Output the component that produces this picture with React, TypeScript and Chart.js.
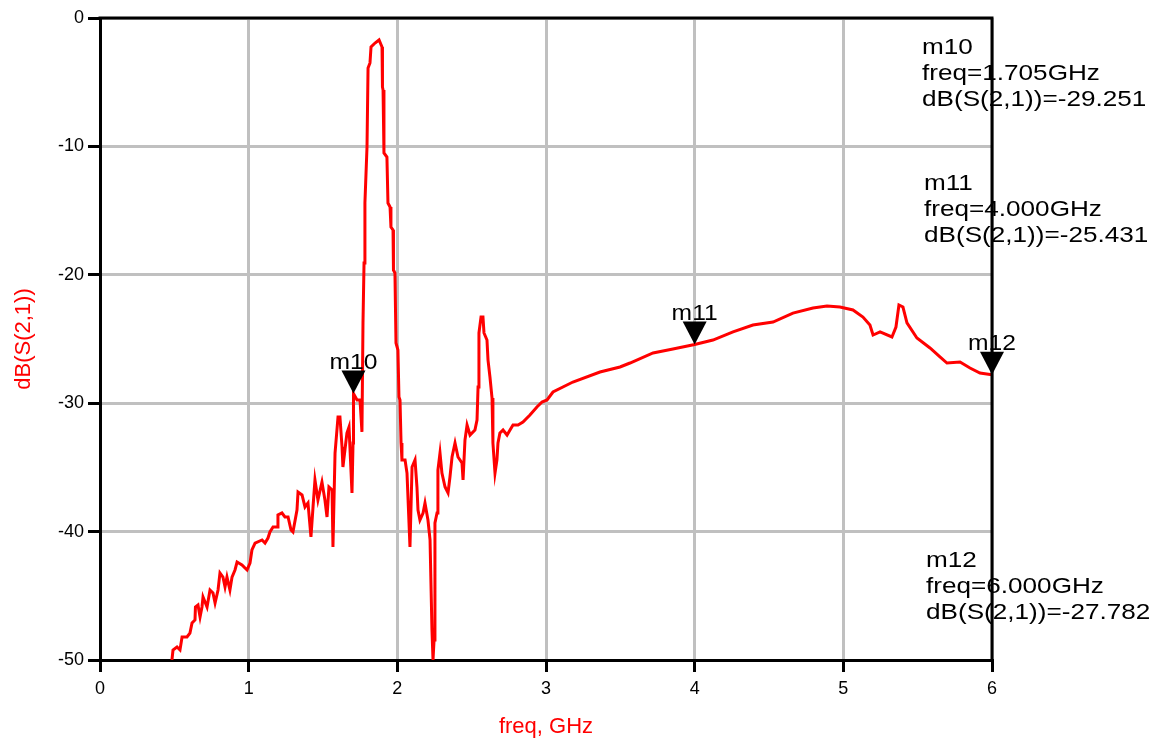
import { useEffect, useRef } from 'react';
import { Chart, registerables } from 'chart.js';

Chart.register(...registerables);

// ---- data (frequency in GHz, dB(S(2,1))) ----
const freqGHz = [
  0.484, 0.491, 0.518, 0.538, 0.552, 0.585, 0.605, 0.619, 0.639, 0.642, 0.659, 0.673, 0.686, 0.693, 0.720,
  0.740, 0.760, 0.774, 0.794, 0.807, 0.827, 0.841, 0.854, 0.874, 0.888, 0.908, 0.922, 0.955, 0.989, 1.009,
  1.022, 1.043, 1.090, 1.110, 1.130, 1.143, 1.164, 1.191, 1.197, 1.224, 1.244, 1.265, 1.285, 1.298, 1.325,
  1.332, 1.359, 1.379, 1.399, 1.419, 1.433, 1.446, 1.466, 1.493, 1.513, 1.527, 1.540, 1.561, 1.567, 1.581,
  1.601, 1.614, 1.628, 1.634, 1.661, 1.675, 1.695, 1.702, 1.705, 1.729, 1.749, 1.762, 1.769, 1.776, 1.782,
  1.796, 1.803, 1.816, 1.823, 1.850, 1.877, 1.897, 1.900, 1.904, 1.910, 1.930, 1.937, 1.951, 1.957, 1.971,
  1.974, 1.984, 1.991, 2.004, 2.011, 2.018, 2.025, 2.031, 2.052, 2.065, 2.085, 2.099, 2.119, 2.132, 2.139,
  2.152, 2.173, 2.186, 2.206, 2.220, 2.233, 2.240, 2.247, 2.253, 2.267, 2.273, 2.287, 2.300, 2.321, 2.341,
  2.354, 2.368, 2.388, 2.408, 2.435, 2.442, 2.455, 2.469, 2.489, 2.522, 2.536, 2.543, 2.549, 2.563, 2.576,
  2.583, 2.603, 2.610, 2.623, 2.637, 2.643, 2.657, 2.670, 2.677, 2.690, 2.711, 2.738, 2.758, 2.778, 2.812,
  2.845, 2.892, 2.939, 2.973, 3.007, 3.047, 3.181, 3.363, 3.498, 3.565, 3.720, 3.854, 4.000, 4.123, 4.258,
  4.392, 4.527, 4.661, 4.796, 4.890, 4.977, 5.065, 5.132, 5.179, 5.200, 5.247, 5.327, 5.354, 5.374, 5.401,
  5.428, 5.495, 5.583, 5.650, 5.697, 5.785, 5.852, 5.919, 6.000,
];
const s21dB = [
  -50.0, -49.22, -48.99, -49.22, -48.21, -48.21, -47.9, -47.12, -46.88, -45.87, -45.72, -46.65, -45.87, -45.09, -45.87,
  -44.55, -44.78, -45.56, -44.55, -43.22, -43.54, -44.31, -43.54, -44.55, -43.54, -42.99, -42.37, -42.6, -42.99, -42.45,
  -41.43, -40.89, -40.65, -40.89, -40.5, -40.03, -39.64, -39.64, -38.71, -38.55, -38.86, -38.86, -39.88, -40.03, -38.32,
  -36.92, -37.15, -38.08, -37.77, -40.42, -38.08, -35.98, -37.54, -36.14, -37.54, -38.86, -36.53, -36.76, -41.2, -33.88,
  -31.07, -31.07, -33.41, -34.97, -32.32, -31.85, -36.99, -33.1, -29.25, -29.75, -29.75, -32.24, -23.75, -19.08, -14.41,
  -10.05, -3.89, -3.5, -2.26, -1.95, -1.71, -2.26, -5.37, -5.61, -10.51, -10.83, -14.41, -14.72, -16.28, -16.51,
  -19.63, -19.86, -25.31, -25.86, -29.52, -29.75, -33.1, -34.42, -34.42, -35.44, -41.2, -34.97, -34.42, -36.53, -38.32,
  -39.1, -38.55, -37.77, -39.1, -40.65, -47.66, -50.0, -48.44, -39.33, -38.55, -35.2, -33.88, -35.44, -36.53, -36.99,
  -35.75, -34.19, -33.1, -34.19, -34.66, -35.98, -32.87, -31.7, -32.48, -32.09, -31.31, -28.74, -24.53, -23.29, -23.29,
  -24.53, -25.08, -26.64, -27.96, -29.6, -33.1, -35.44, -34.42, -33.1, -32.32, -32.09, -32.48, -32.09, -31.7, -31.7,
  -31.46, -30.92, -30.3, -29.91, -29.75, -29.13, -28.35, -27.57, -27.18, -26.87, -26.09, -25.78, -25.43, -25.08, -24.45,
  -23.91, -23.68, -22.98, -22.59, -22.43, -22.51, -22.74, -23.29, -23.91, -24.69, -24.45, -24.84, -24.07, -22.35, -22.51,
  -23.75, -24.92, -25.7, -26.4, -26.87, -26.79, -27.26, -27.65, -27.78,
];

const markerNames = ['m10', 'm11', 'm12'];
const markerFreq = [1.705, 4.0, 6.0];
const markerDB = [-29.251, -25.431, -27.782];

const xTickValues = [0, 1, 2, 3, 4, 5, 6];
const yTickValues = [-50, -40, -30, -20, -10, 0];

const xTitle = 'freq, GHz';
const yTitle = 'dB(S(2,1))';
const traceName = 'dB(S(2,1))';

// layout of the marker readouts (pixel offsets from the plot's right edge)
const readoutLayout = [
  { dx: -70, y: 54 },
  { dx: -68, y: 190 },
  { dx: -66, y: 567 },
];

const FONT = '"Liberation Sans", Arial, sans-serif';

const markerPlugin = {
  id: 'adsMarkers',
  afterDatasetsDraw(chart: any) {
    const ctx = chart.ctx;
    const xs = chart.scales.x;
    const ys = chart.scales.y;
    ctx.save();
    for (let i = 0; i < markerNames.length; i++) {
      const px = xs.getPixelForValue(markerFreq[i]);
      const py = ys.getPixelForValue(markerDB[i]);
      ctx.fillStyle = '#000';
      ctx.beginPath();
      ctx.moveTo(px, py);
      ctx.lineTo(px - 12, py - 23);
      ctx.lineTo(px + 12, py - 23);
      ctx.closePath();
      ctx.fill();
      ctx.save();
      ctx.font = `22px ${FONT}`;
      ctx.textAlign = 'center';
      ctx.textBaseline = 'alphabetic';
      ctx.translate(px, py - 25);
      ctx.scale(1.12, 1);
      ctx.fillText(markerNames[i], 0, 0);
      ctx.restore();
    }
    // readouts
    const right = chart.chartArea.right;
    for (let i = 0; i < markerNames.length; i++) {
      const lay = readoutLayout[i];
      const lines = [
        markerNames[i],
        `freq=${markerFreq[i].toFixed(3)}GHz`,
        `${traceName}=${markerDB[i].toFixed(3)}`,
      ];
      ctx.save();
      ctx.fillStyle = '#000';
      ctx.font = `21.5px ${FONT}`;
      ctx.textAlign = 'left';
      ctx.textBaseline = 'alphabetic';
      lines.forEach((t, k) => {
        ctx.save();
        ctx.translate(right + lay.dx, lay.y + k * 26);
        ctx.scale(1.215, 1);
        ctx.fillText(t, 0, 0);
        ctx.restore();
      });
      ctx.restore();
    }
    ctx.restore();
  },
  afterDraw(chart: any) {
    const { left, right, top, bottom } = chart.chartArea;
    const ctx = chart.ctx;
    ctx.save();
    ctx.strokeStyle = '#000';
    ctx.lineWidth = 3;
    ctx.beginPath();
    ctx.moveTo(left - 1.5, top);
    ctx.lineTo(right, top);
    ctx.lineTo(right, bottom + 1.5);
    ctx.stroke();
    ctx.restore();
  },
};

export default function App() {
  const ref = useRef<HTMLCanvasElement | null>(null);
  useEffect(() => {
    document.body.style.margin = '0';
    const canvas = ref.current;
    if (!canvas) return;
    const chart = new Chart(canvas, {
      type: 'line',
      data: {
        datasets: [
          {
            label: traceName,
            data: freqGHz.map((f, i) => ({ x: f, y: s21dB[i] })),
            borderColor: '#ff0000',
            borderWidth: 3,
            pointRadius: 0,
            tension: 0,
            fill: false,
          },
        ],
      },
      options: {
        responsive: false,
        animation: false,
        maintainAspectRatio: false,
        layout: { padding: { left: 0, right: 162, top: 18, bottom: 0 } },
        plugins: { legend: { display: false }, tooltip: { enabled: false } },
        scales: {
          x: {
            type: 'linear',
            min: 0,
            max: 6,
            afterBuildTicks: (s: any) => {
              s.ticks = xTickValues.map((v) => ({ value: v }));
            },
            afterFit: (s: any) => {
              s.height = 82;
            },
            grid: { color: '#c0c0c0', lineWidth: 3, tickColor: '#000', tickLength: 12, tickWidth: 3 },
            border: { color: '#000', width: 3 },
            ticks: { color: '#000', font: { family: FONT, size: 18 }, padding: 6, maxRotation: 0 },
            title: {
              display: true,
              text: xTitle,
              color: '#ff0000',
              font: { family: FONT, size: 22 },
              padding: { top: 0, bottom: 2 },
            },
          },
          y: {
            type: 'linear',
            min: -50,
            max: 0,
            afterBuildTicks: (s: any) => {
              s.ticks = yTickValues.map((v) => ({ value: v }));
            },
            afterFit: (s: any) => {
              s.width = 100;
            },
            grid: { color: '#c0c0c0', lineWidth: 3, tickColor: '#000', tickLength: 12, tickWidth: 3 },
            border: { color: '#000', width: 3 },
            ticks: { color: '#000', font: { family: FONT, size: 18 }, padding: 4 },
            title: {
              display: true,
              text: yTitle,
              color: '#ff0000',
              font: { family: FONT, size: 22 },
              padding: { top: 11, bottom: 0 },
            },
          },
        },
      },
      plugins: [markerPlugin],
    });
    return () => chart.destroy();
  }, []);
  return <canvas ref={ref} width={1154} height={742} style={{ display: 'block', width: 1154, height: 742 }} />;
}
